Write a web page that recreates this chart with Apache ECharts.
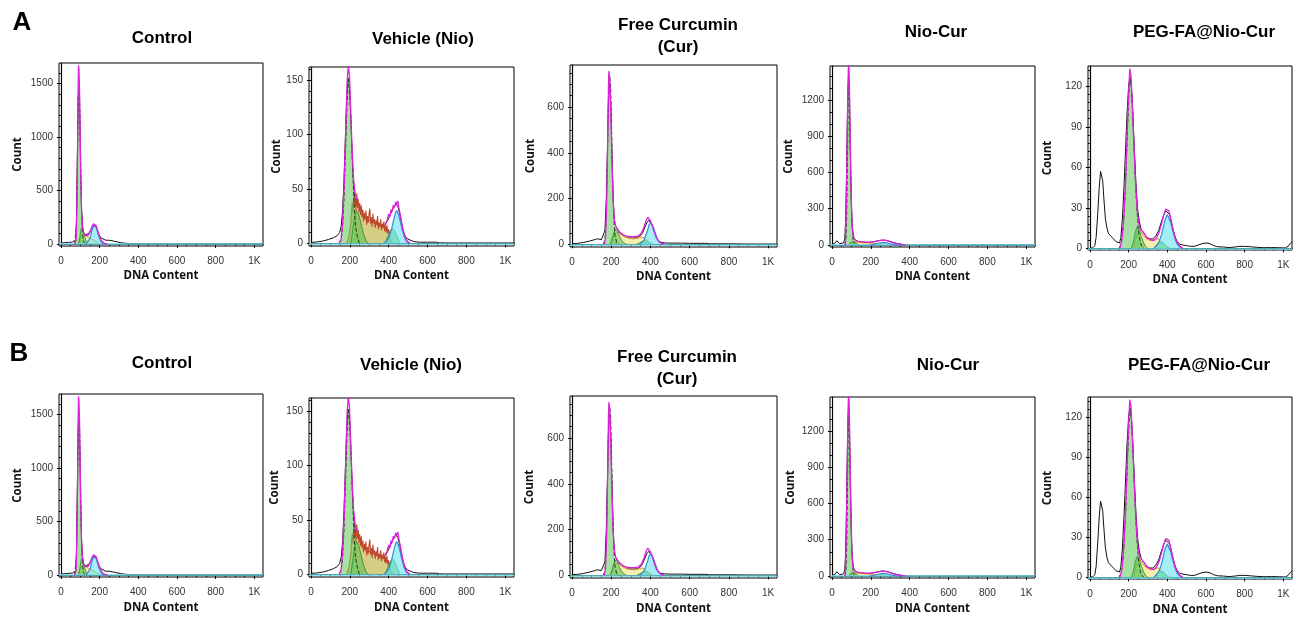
<!DOCTYPE html>
<html>
<head>
<meta charset="utf-8">
<title>DNA content histograms</title>
<script src="https://cdn.jsdelivr.net/npm/echarts@6/dist/echarts.min.js"></script>
<style>
  html, body { margin: 0; padding: 0; background: #fff; }
  #chart { width: 1296px; height: 617px; }
</style>
</head>
<body>
<div id="chart"></div>
<script>
// x axis (DNA content) ticks
const xMajor = [0, 200, 400, 600, 800, 1000];
const xLabels = ['0', '200', '400', '600', '800', '1K'];
const xMinorStep = 50;

// panel titles
const panelTitles = [['Control'], ['Vehicle (Nio)'], ['Free Curcumin', '(Cur)'], ['Nio-Cur'], ['PEG-FA@Nio-Cur']];

// y axis (Count) per panel
const yMin = [-19, -2.5, -12, -17, -1.2];
const yMax = [1692, 162, 784, 1481, 135];
const yMajor = [
  [0, 500, 1000, 1500],
  [0, 50, 100, 150],
  [0, 200, 400, 600],
  [0, 300, 600, 900, 1200],
  [0, 30, 60, 90, 120]
];
const yMinorStep = [100, 10, 50, 100, 6];

// ---- Control ----
const ctrlRaw = [[0,8],[20,12],[40,15],[60,18],[70,20],[76,40],[80,200],[84,650],[87,1100],[90,1380],[92,1450],[94,1400],[97,1200],[100,880],[103,560],[107,300],[112,160],[118,105],[126,85],[135,80],[145,100],[155,135],[163,165],[170,178],[178,172],[186,140],[195,95],[205,60],[215,42],[230,36],[250,34],[270,28],[290,20],[310,12],[330,7],[360,4],[450,3],[600,3],[800,3],[1045,3]];
const ctrlG1 = [[70,0],[76,5],[80,150],[84,600],[88,1200],[91,1480],[93,1530],[95,1480],[98,1250],[101,900],[104,550],[108,250],[112,90],[118,20],[125,0]];
const ctrlAgg = [[92,0],[98,60],[104,140],[110,160],[116,120],[124,60],[132,20],[140,0]];
const ctrlS = [[90,0],[95,40],[105,80],[120,85],[135,70],[150,55],[165,40],[180,25],[195,10],[210,0]];
const ctrlG2 = [[130,0],[140,10],[150,50],[158,110],[165,160],[172,178],[180,165],[188,120],[196,70],[205,30],[215,8],[225,0]];
const ctrlFit = [[70,0],[78,30],[82,300],[86,900],[89,1450],[91,1670],[93,1640],[96,1450],[99,1100],[102,700],[106,350],[110,180],[116,110],[124,80],[132,72],[140,80],[150,110],[160,160],[168,188],[174,192],[182,172],[190,125],[200,70],[212,25],[225,5],[240,0]];

// ---- Vehicle (Nio) ----
const vehRaw = [[0,0.8],[30,1.2],[60,2],[90,3.5],[115,5],[135,7],[148,10],[156,16],[163,30],[170,58],[177,95],[184,132],[190,152],[196,150],[202,128],[209,95],[216,64],[224,44],[232,37],[245,33],[260,28],[280,23],[300,21],[320,19],[340,17],[360,15],[378,16],[395,21],[410,27],[425,33],[437,36],[447,34],[457,27],[467,18],[477,10],[487,6],[497,4],[510,3],[530,1.5],[560,1],[600,1],[645,1],[660,0.4],[700,0.3],[1045,0.3]];
const vehG1 = [[145,0],[155,3],[162,12],[170,40],[178,85],[186,130],[193,150],[200,140],[208,102],[215,66],[222,36],[230,15],[240,5],[250,0]];
const vehAgg1 = [[205,0],[215,12],[225,25],[235,30],[245,27],[258,18],[270,9],[285,2],[295,0]];
const vehAgg2 = [[380,0],[395,6],[408,12],[420,14],[432,11],[445,5],[458,0]];
const vehS = [[185,0],[195,6],[205,18],[209,30],[213,38],[217,28],[221,44],[225,34],[229,40],[232,30],[236,46],[240,33],[243,41],[247,29],[251,37],[255,26],[259,35],[263,24],[267,31],[271,20],[275,28],[279,22],[283,30],[287,17],[291,25],[295,19],[299,27],[303,32],[307,18],[311,24],[315,15],[319,27],[323,19],[327,22],[331,14],[335,21],[339,17],[343,25],[347,13],[351,19],[355,15],[359,22],[363,12],[367,18],[371,14],[375,20],[379,11],[383,16],[387,10],[391,17],[395,9],[399,13],[403,7],[410,3],[420,0]];
const vehG2 = [[375,0],[390,2],[405,7],[415,13],[425,21],[435,28],[442,30],[450,27],[460,20],[470,12],[480,6],[490,2],[505,0]];
const vehFitG1 = [[145,0],[155,4],[163,20],[171,55],[179,105],[186,148],[192,163],[198,155],[205,120],[212,85],[220,58],[228,45],[236,40]];
const vehFitG2 = [[380,17],[392,21],[400,27],[406,24],[412,31],[418,29],[424,35],[430,33],[436,38],[442,36],[447,39],[452,33],[462,24],[472,14],[482,7],[495,2],[510,0]];

// ---- Free Curcumin (Cur) ----
const fcRaw = [[0,3],[30,4],[60,8],[90,14],[115,20],[130,24],[140,27],[150,20],[160,22],[168,60],[175,200],[181,420],[186,620],[190,700],[194,690],[198,600],[203,420],[208,260],[213,140],[218,90],[225,75],[235,62],[250,45],[270,32],[290,28],[310,27],[330,28],[345,34],[360,50],[372,75],[382,95],[392,105],[400,100],[410,82],[420,55],[430,30],[440,16],[452,9],[470,6],[500,5],[560,5],[600,4],[680,4],[700,2],[800,2],[900,1],[1045,1]];
const fcG1 = [[160,0],[168,20],[174,110],[180,350],[185,600],[190,720],[193,732],[197,690],[201,560],[205,380],[210,200],[215,90],[220,35],[228,8],[240,0]];
const fcAgg1 = [[195,0],[205,20],[213,50],[222,68],[232,58],[242,35],[255,14],[270,3],[280,0]];
const fcAgg2 = [[330,0],[345,6],[360,13],[372,16],[385,12],[398,5],[410,0]];
const fcS = [[195,0],[205,30],[215,55],[225,62],[240,50],[255,40],[270,33],[285,28],[300,25],[315,24],[330,26],[345,30],[358,32],[370,28],[385,15],[400,5],[415,0]];
const fcG2 = [[345,0],[355,5],[365,15],[375,35],[385,60],[393,85],[400,95],[407,92],[415,75],[425,48],[435,24],[448,8],[460,2],[475,0]];
const fcFit = [[165,0],[171,30],[177,180],[182,450],[186,690],[188,757],[191,740],[195,660],[200,500],[205,330],[210,190],[216,110],[222,82],[230,68],[245,52],[260,42],[280,35],[300,33],[320,33],[340,37],[355,50],[368,78],[378,105],[386,118],[393,115],[400,103],[410,80],[420,52],[430,28],[442,12],[455,4],[470,0]];

// ---- Nio-Cur ----
const ncRaw = [[0,5],[15,12],[25,35],[32,28],[40,10],[50,12],[60,18],[66,50],[70,180],[74,500],[78,900],[82,1250],[85,1380],[88,1300],[91,1050],[95,700],[99,400],[103,200],[108,100],[114,55],[122,38],[135,28],[150,24],[170,22],[190,22],[210,25],[230,32],[250,38],[265,40],[280,37],[300,28],[320,18],[340,10],[360,5],[380,2],[420,1],[1045,1]];
const ncG1 = [[68,0],[72,40],[76,250],[80,700],[83,1150],[86,1400],[89,1380],[92,1100],[95,750],[99,400],[103,170],[108,50],[114,10],[120,0]];
const ncAgg = [[90,0],[97,20],[104,35],[112,30],[122,15],[135,4],[145,0]];
const ncS = [[85,0],[95,20],[105,30],[120,28],[140,22],[160,19],[180,17],[200,16],[220,14],[240,11],[260,8],[280,5],[300,2],[320,0]];
const ncG2 = [[195,0],[210,3],[225,8],[240,14],[255,19],[265,21],[278,19],[292,14],[308,8],[325,3],[345,1],[365,0]];
const ncFit = [[66,0],[70,60],[74,350],[78,850],[82,1300],[85,1490],[88,1460],[91,1200],[95,800],[99,420],[103,190],[108,80],[114,45],[122,35],[135,30],[150,27],[170,24],[190,22],[210,25],[230,31],[250,38],[265,40],[280,37],[300,27],[320,16],[340,8],[360,3],[380,0]];

// ---- PEG-FA@Nio-Cur ----
const pgRaw = [[0,0],[15,0.5],[25,2],[32,8],[40,25],[48,45],[55,57],[60,58],[66,50],[73,35],[80,22],[88,15],[96,11],[105,10],[115,8],[125,7],[135,5],[145,4],[153,4],[160,8],[168,22],[176,45],[184,72],[192,100],[200,120],[207,127],[214,120],[222,100],[230,72],[238,48],[246,30],[255,20],[265,14],[280,11],[295,8],[310,7],[325,7],[340,9],[355,13],[368,19],[380,24],[392,28],[402,29],[412,25],[422,19],[432,13],[442,8],[452,5],[465,3],[480,2.5],[500,2],[520,1.5],[540,1.5],[560,2.5],[580,3.5],[600,4],[620,3.5],[640,2],[660,1.2],[690,1],[720,0.6],[750,1],[775,1.5],[800,1.5],[830,1.2],[860,0.8],[900,0.5],[940,0.6],[980,0.5],[1010,0.3],[1025,1.5],[1035,3.5],[1045,5]];
const pgG1 = [[150,0],[160,3],[170,12],[180,35],[188,62],[196,95],[202,115],[208,126],[214,120],[221,100],[228,75],[235,50],[243,28],[251,13],[260,5],[270,1],[280,0]];
const pgAgg1 = [[215,0],[225,5],[235,12],[245,16],[255,14],[265,9],[278,4],[290,1],[300,0]];
const pgAgg2 = [[330,0],[345,2.5],[358,4.5],[368,5],[380,4],[392,2],[405,0]];
const pgS = [[225,0],[235,6],[245,12],[255,14],[265,12],[280,9],[295,7],[310,6],[325,6],[340,7],[355,7],[370,5],[385,3],[400,1],[415,0]];
const pgG2 = [[330,0],[345,2],[358,5],[370,10],[380,16],[390,22],[400,25],[408,24],[418,19],[428,13],[440,7],[452,3],[465,1],[480,0]];
const pgFit = [[155,0],[165,6],[175,22],[185,52],[193,88],[200,115],[206,133],[212,128],[219,108],[226,82],[234,55],[242,33],[250,20],[258,15],[268,14],[281,11],[295,8],[307,7],[320,6],[333,6],[345,8],[358,12],[370,18],[382,25],[392,29],[400,30],[408,28],[418,22],[428,15],[440,8],[452,4],[465,1.5],[480,0]];

const panels = [
  { raw: ctrlRaw, s: ctrlS, agg: [ctrlAgg], g1: ctrlG1, g2: ctrlG2, fit: [ctrlFit] },
  { raw: vehRaw, s: vehS, agg: [vehAgg1, vehAgg2], g1: vehG1, g2: vehG2, fit: [vehFitG1, vehFitG2] },
  { raw: fcRaw, s: fcS, agg: [fcAgg1, fcAgg2], g1: fcG1, g2: fcG2, fit: [fcFit] },
  { raw: ncRaw, s: ncS, agg: [ncAgg], g1: ncG1, g2: ncG2, fit: [ncFit] },
  { raw: pgRaw, s: pgS, agg: [pgAgg1, pgAgg2], g1: pgG1, g2: pgG2, fit: [pgFit] }
];

// layout of the plot boxes (row A, row B = shifted down)
const gridLeft = [59, 309, 570, 830, 1088];
const gridWidth = [204, 205, 207, 205, 204];
const gridTop = [63, 67, 65, 66, 66];
const gridBottom = [246, 246, 247, 247, 250];
const rowShift = 331;
const countGap = [[35, 20, 33, 35, 34], [35, 28, 34, 33, 34]];
const titlePos = [
  [[162, 38], [423, 39], [678, 25], [936, 32], [1204, 32]],
  [[162, 363], [411, 365], [677, 357], [948, 365], [1199, 365]]
];

function steps(min, max, step) {
  const out = [];
  for (let v = 0; v <= max; v += step) if (v >= min) out.push(v);
  return out;
}

const grid = [], xAxis = [], yAxis = [], series = [], graphic = [];
const tickFont = { fontSize: 10, color: '#333', fontFamily: "'Liberation Sans', Arial, sans-serif" };
const nameFont = { fontSize: 11.5, fontWeight: 'bold', color: '#111', fontFamily: "'Open Sans', 'Liberation Sans', sans-serif" };

for (let r = 0; r < 2; r++) {
  for (let p = 0; p < 5; p++) {
    const i = r * 5 + p;
    const top = gridTop[p] + r * rowShift;
    const h = gridBottom[p] - gridTop[p];
    grid.push({ left: gridLeft[p], top: top, width: gridWidth[p], height: h, show: true, borderColor: '#000', borderWidth: 1, backgroundColor: '#fff' });

    // x axes: main + minor ticks
    const xMinor = steps(-10, 1045, xMinorStep);
    xAxis.push({
      gridIndex: i, type: 'value', position: 'bottom', min: -10, max: 1045,
      axisLine: { show: true, lineStyle: { color: '#000', width: 1.2 } },
      axisTick: { show: true, customValues: xMajor, length: 4, lineStyle: { color: '#000' } },
      axisLabel: { customValues: xMajor, margin: 10, formatter: v => xLabels[xMajor.indexOf(v)], ...tickFont },
      splitLine: { show: false },
      name: 'DNA Content', nameLocation: 'middle', nameGap: 24 + r, nameTextStyle: nameFont
    });
    xAxis.push({
      gridIndex: i, type: 'value', position: 'bottom', min: -10, max: 1045,
      axisLine: { show: false },
      axisTick: { show: true, customValues: xMinor, length: 2, lineStyle: { color: '#000' } },
      axisLabel: { show: false, customValues: xMinor }, splitLine: { show: false }
    });

    // y axes: main + minor ticks
    const yMinor = steps(yMin[p], yMax[p], yMinorStep[p]);
    yAxis.push({
      gridIndex: i, type: 'value', position: 'left', min: yMin[p], max: yMax[p],
      axisLine: { show: true, lineStyle: { color: '#000', width: 1.2 } },
      axisTick: { show: true, customValues: yMajor[p], length: 4, lineStyle: { color: '#000' } },
      axisLabel: { customValues: yMajor[p], margin: 6, formatter: v => String(v), ...tickFont },
      splitLine: { show: false },
      name: 'Count', nameLocation: 'middle', nameGap: countGap[r][p], nameTextStyle: nameFont
    });
    yAxis.push({
      gridIndex: i, type: 'value', position: 'left', min: yMin[p], max: yMax[p],
      axisLine: { show: false },
      axisTick: { show: true, customValues: yMinor, length: 2, lineStyle: { color: '#000' } },
      axisLabel: { show: false, customValues: yMinor }, splitLine: { show: false }
    });

    const d = panels[p];
    const base = { type: 'line', xAxisIndex: 2 * i, yAxisIndex: 2 * i, symbol: 'none', smooth: false, animation: false, silent: true };
    // raw histogram
    series.push({ ...base, data: d.raw, z: 2, lineStyle: { color: '#111', width: 1 } });
    // S phase
    const veh = p === 1;
    series.push({ ...base, data: d.s, z: 3,
      lineStyle: { color: veh ? '#c04a30' : '#d9892b', width: veh ? 1.1 : 1 },
      areaStyle: { color: veh ? 'rgba(185,175,50,0.85)' : 'rgba(240,228,120,0.85)' } });
    // aggregate / doublet humps
    d.agg.forEach(a => series.push({ ...base, data: a, z: 4,
      lineStyle: { color: '#2e8b2e', width: 0.8 }, areaStyle: { color: 'rgba(80,185,70,0.75)' } }));
    // G1 peak
    series.push({ ...base, data: d.g1, z: 4,
      lineStyle: { color: '#1f3f1f', width: 1, type: [4, 2] }, areaStyle: { color: 'rgba(105,205,100,0.85)' } });
    // G2 peak, with the model's cyan baseline
    series.push({ ...base, data: d.g2, z: 5,
      lineStyle: { color: '#3a8ad8', width: 1.2 }, areaStyle: { color: 'rgba(100,228,238,0.85)' },
      markLine: { silent: true, symbol: 'none', label: { show: false }, animation: false,
        lineStyle: { color: '#6fd8ea', width: 1.5, type: 'solid' }, data: [{ yAxis: 0 }] } });
    // model fit
    d.fit.forEach(f => series.push({ ...base, data: f, z: 6, lineStyle: { color: '#e020e0', width: 1.3 } }));

    // panel title
    const lines = panelTitles[p];
    const [tx, ty] = titlePos[r][p];
    lines.forEach((t, k) => graphic.push({
      type: 'text', x: tx, y: ty + (lines.length > 1 ? k * 22 : 0),
      style: { text: t, font: "bold 17px 'Liberation Sans', Arial, sans-serif", fill: '#000', align: 'center', verticalAlign: 'middle' }
    }));
  }
}

graphic.push({ type: 'text', x: 22, y: 23, style: { text: 'A', font: "bold 26px 'Liberation Sans', Arial, sans-serif", fill: '#000', align: 'center', verticalAlign: 'middle' } });
graphic.push({ type: 'text', x: 19, y: 354, style: { text: 'B', font: "bold 26px 'Liberation Sans', Arial, sans-serif", fill: '#000', align: 'center', verticalAlign: 'middle' } });

const chart = echarts.init(document.getElementById('chart'));
chart.setOption({
  backgroundColor: '#fff',
  animation: false,
  textStyle: { fontFamily: "'Liberation Sans', Arial, sans-serif" },
  grid: grid,
  xAxis: xAxis,
  yAxis: yAxis,
  series: series,
  graphic: graphic
});
</script>
</body>
</html>
